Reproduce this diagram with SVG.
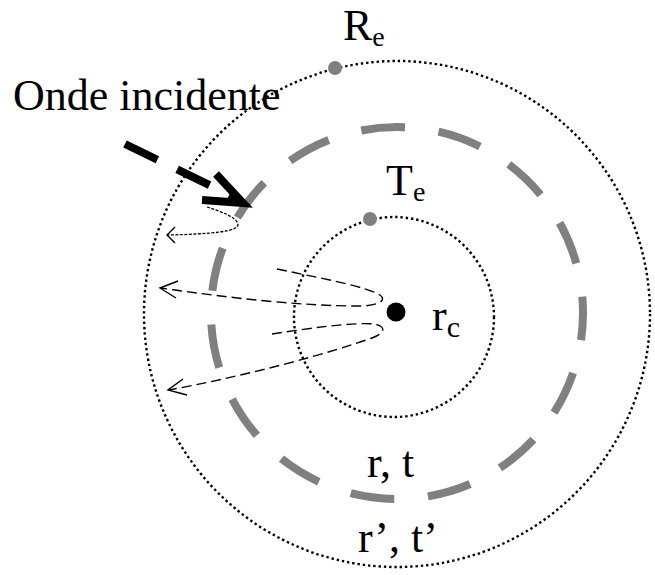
<svg xmlns="http://www.w3.org/2000/svg" width="655" height="575" viewBox="0 0 655 575">
<defs>
<style>
.dot{fill:none;stroke:#000;stroke-width:2.4;stroke-dasharray:2.4 2.9}
.wall{fill:none;stroke:#808080;stroke-width:8;stroke-dasharray:44 33.91;stroke-dashoffset:16.8}
.ray{fill:none;stroke:#000;stroke-width:1.4;stroke-dasharray:10 5}
.ray2{fill:none;stroke:#000;stroke-width:1.3;stroke-dasharray:3 1.5}
.head{fill:none;stroke:#000;stroke-width:1.4}
.lbl{font-family:"Liberation Serif","Times New Roman",serif;font-size:44px;fill:#000}
.sub{font-size:28px}
</style>
</defs>
<g id="outer-sphere">
<circle class="dot" cx="397" cy="314" r="253"/>
<circle cx="335" cy="68" r="7" fill="#808080"/>
<text class="lbl" x="343" y="40">R<tspan class="sub" dy="6">e</tspan></text>
</g>
<g id="wall">
<circle class="wall" cx="397" cy="313" r="186"/>
</g>
<g id="inner-sphere">
<circle class="dot" cx="394" cy="317" r="100"/>
<circle cx="370" cy="219" r="7" fill="#808080"/>
<text class="lbl" x="386" y="195">T<tspan class="sub" dy="6">e</tspan></text>
</g>
<g id="core">
<circle cx="396" cy="312" r="9.5" fill="#000"/>
<text class="lbl" x="432" y="330">r<tspan font-size="30" dy="7">c</tspan></text>
</g>
<g id="incident">
<text class="lbl" x="13" y="110">Onde incidente</text>
</g>
<g id="labels">
<text class="lbl" x="367" y="477">r, t</text>
<text class="lbl" x="358" y="552" font-size="45">r’, t’</text>
</g>
<g id="connectors">
<line x1="125" y1="144" x2="238" y2="199" stroke="#000" stroke-width="8" stroke-dasharray="36 22"/>
<polyline points="216,174 243,203 202,200" fill="none" stroke="#000" stroke-width="8" stroke-miterlimit="10"/>
<path class="ray2" d="M207,207 C222,212 236,217 238,224 C239,232 210,234 168,235"/>
<polyline class="head" points="175,227 167,235 175,243"/>
<path class="ray" d="M277,269 C320,278 368,287 380,295 C388,301 376,306 360,306 C300,306 230,298 161,288"/>
<polyline class="head" points="178,281 160,288 176,298"/>
<path class="ray" d="M272,334 C310,328 355,322 374,324 C386,326 386,333 372,338 C330,353 250,375 169,390"/>
<polyline class="head" points="183,379 168,390 187,395"/>
</g>
</svg>
